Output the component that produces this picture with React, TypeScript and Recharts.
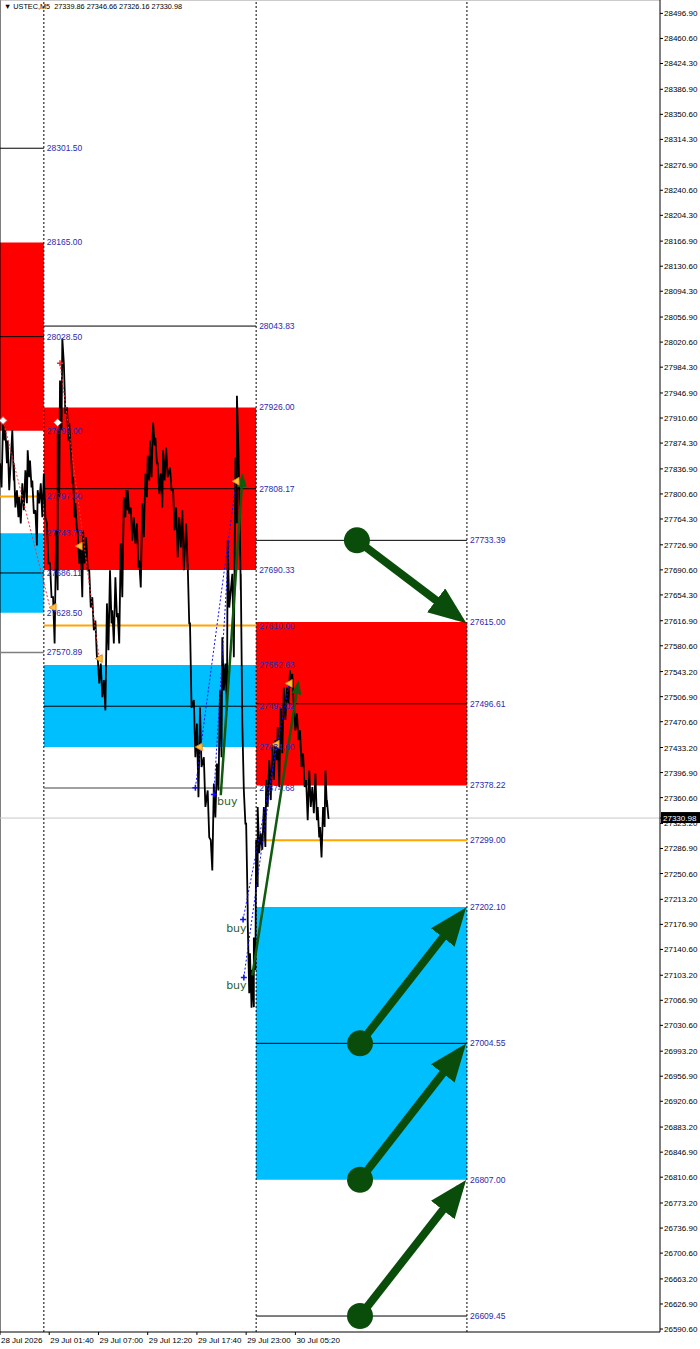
import React from 'react';
import {
  ComposedChart,
  Line,
  Scatter,
  XAxis,
  YAxis,
  ReferenceArea,
  ReferenceLine,
} from 'recharts';

const WIDTH = 700;
const HEIGHT = 1349;
const FONT = '"Liberation Sans", Arial, sans-serif';

const TEXT_BLUE = '#2b2bb0';
const DARK_GREEN = '#0a4d0a';
const ORANGE = '#ffa500';
const ZONE_RED = '#ff0000';
const ZONE_BLUE = '#00bfff';

const symbol = 'USTEC,M5';
const headerQuote = [27339.86, 27346.66, 27326.16, 27330.98];

// x values are M5 bar numbers counted from the left edge of the window
const barDomain: [number, number] = [0, 858];
const priceDomain: [number, number] = [26586.3, 28516.3];

const timeTicks = [0, 64, 128, 192, 256, 320, 384];
const timeLabels = [
  '28 Jul 2026',
  '29 Jul 01:40',
  '29 Jul 07:00',
  '29 Jul 12:20',
  '29 Jul 17:40',
  '29 Jul 23:00',
  '30 Jul 05:20',
];

const priceTicks = [
  28496.9, 28460.6, 28424.3, 28386.9, 28350.6, 28314.3, 28276.9, 28240.6, 28204.3,
  28166.9, 28130.6, 28094.3, 28056.9, 28020.6, 27984.3, 27946.9, 27910.6, 27874.3,
  27836.9, 27800.6, 27764.3, 27726.9, 27690.6, 27654.3, 27616.9, 27580.6, 27543.2,
  27506.9, 27470.6, 27433.2, 27396.9, 27360.6, 27323.2, 27286.9, 27250.6, 27213.2,
  27176.9, 27140.6, 27103.2, 27066.9, 27030.6, 26993.2, 26956.9, 26920.6, 26883.2,
  26846.9, 26810.6, 26773.2, 26736.9, 26700.6, 26663.2, 26626.9, 26590.6,
];

const sessionBreaks = [57, 333, 607];

// [bar, high, low]
const priceSwings: [number, number, number][] = [
  [0, 27845, 27810], [4, 27907, 27878], [7, 27893, 27845], [10, 27878, 27806],
  [16, 27893, 27820], [18, 27845, 27781], [22, 27806, 27767], [25, 27796, 27758],
  [29, 27816, 27777], [33, 27835, 27787], [36, 27864, 27825], [39, 27849, 27810],
  [42, 27820, 27772], [46, 27777, 27726], [49, 27806, 27787], [53, 27816, 27767],
  [57, 27830, 27767], [61, 27758, 27700], [65, 27700, 27651], [69, 27651, 27584],
  [73, 27748, 27661], [75, 27893, 27796], [78, 27965, 27893], [81, 28026, 27990],
  [83, 27990, 27917], [87, 27926, 27878], [90, 27903, 27864], [92, 27868, 27816],
  [95, 27825, 27767], [98, 27787, 27748], [101, 27748, 27700], [105, 27723, 27651],
  [108, 27748, 27700], [112, 27738, 27690], [116, 27690, 27636], [120, 27651, 27603],
  [124, 27617, 27564], [127, 27564, 27526], [131, 27555, 27506], [135, 27531, 27487],
  [139, 27642, 27574], [143, 27690, 27613], [146, 27632, 27584], [150, 27680, 27622],
  [153, 27628, 27584], [157, 27729, 27651], [161, 27796, 27767], [164, 27806, 27777],
  [166, 27806, 27772], [170, 27781, 27733], [174, 27767, 27729], [178, 27758, 27694],
  [181, 27704, 27665], [185, 27787, 27738], [189, 27830, 27796], [192, 27856, 27820],
  [195, 27878, 27825], [199, 27904, 27871], [202, 27882, 27845], [205, 27845, 27801],
  [209, 27830, 27781], [212, 27864, 27820], [216, 27868, 27825], [221, 27839, 27806],
  [225, 27806, 27748], [229, 27781, 27709], [233, 27767, 27723], [237, 27777, 27690],
  [242, 27758, 27694], [244, 27700, 27613], [247, 27613, 27491], [252, 27502, 27419],
  [256, 27468, 27361], [260, 27491, 27405], [265, 27419, 27347], [270, 27371, 27303],
  [274, 27299, 27255], [278, 27381, 27332], [282, 27410, 27371], [286, 27516, 27419],
  [289, 27593, 27516], [293, 27555, 27487], [296, 27733, 27636], [302, 27685, 27564],
  [306, 27853, 27758], [308, 27943, 27864], [311, 27806, 27661], [313, 27685, 27468],
  [317, 27371, 27323], [320, 27323, 27202], [322, 27183, 27077], [325, 27135, 27056],
  [328, 27111, 27057], [330, 27158, 27111], [333, 27299, 27231], [335, 27347, 27280],
  [339, 27309, 27285], [343, 27347, 27289], [346, 27386, 27347], [350, 27415, 27357],
  [354, 27434, 27386], [358, 27444, 27415], [361, 27463, 27376], [365, 27491, 27425],
  [369, 27520, 27473], [373, 27520, 27497], [377, 27545, 27520], [380, 27540, 27491],
  [382, 27497, 27458], [386, 27483, 27444], [390, 27458, 27405], [394, 27425, 27376],
  [398, 27386, 27328], [402, 27400, 27347], [406, 27376, 27338], [410, 27396, 27328],
  [413, 27347, 27303], [416, 27318, 27274], [420, 27347, 27318], [423, 27400, 27347],
  [425, 27357, 27331],
];
const lastClose = 27330.98;

const supplyZones = [
  { from: 0, to: 57, low: 27892.0, high: 28165.0 },
  { from: 57, to: 333, low: 27690.33, high: 27926.0 },
  { from: 333, to: 607, low: 27378.22, high: 27615.0 },
];
const demandZones = [
  { from: 0, to: 57, low: 27628.5, high: 27743.73 },
  { from: 57, to: 333, low: 27434.0, high: 27552.63 },
  { from: 333, to: 607, low: 26807.0, high: 27202.1 },
];

const blackLevels = [
  { price: 28301.5, from: 0, to: 57 },
  { price: 28028.5, from: 0, to: 57 },
  { price: 27686.11, from: 0, to: 57 },
  { price: 28043.83, from: 57, to: 333 },
  { price: 27808.17, from: 57, to: 333 },
  { price: 27493.02, from: 57, to: 333 },
  { price: 27733.39, from: 333, to: 607 },
  { price: 27496.61, from: 333, to: 607 },
  { price: 27004.55, from: 333, to: 607 },
  { price: 26609.45, from: 333, to: 607 },
];
const orangeLevels = [
  { price: 27797.0, from: 0, to: 57 },
  { price: 27610.0, from: 57, to: 333 },
  { price: 27299.0, from: 333, to: 607 },
];
const grayLevels = [
  { price: 27570.89, from: 0, to: 57 },
  { price: 27374.68, from: 57, to: 333 },
];

const targetArrows = [
  { fromBar: 464, fromPrice: 27733.39, toBar: 596, toPrice: 27622 },
  { fromBar: 468, fromPrice: 27004.55, toBar: 598, toPrice: 27190 },
  { fromBar: 468, fromPrice: 26807.0, toBar: 598, toPrice: 26993 },
  { fromBar: 468, fromPrice: 26609.45, toBar: 598, toPrice: 26795 },
];
const buyTrades = [
  { fromBar: 287, fromPrice: 27364, toBar: 315, toPrice: 27822 },
  { fromBar: 328, fromPrice: 27103, toBar: 387, toPrice: 27522 },
];
const redLinks = [
  { fromBar: 4, fromPrice: 27907, toBar: 65, toPrice: 27636 },
  { fromBar: 78, fromPrice: 27990, toBar: 129, toPrice: 27562 },
];
const blueLinks = [
  { fromBar: 254, fromPrice: 27375, toBar: 307, toPrice: 27819 },
  { fromBar: 278, fromPrice: 27365, toBar: 298, toPrice: 27733 },
  { fromBar: 316, fromPrice: 27184, toBar: 376, toPrice: 27526 },
  { fromBar: 317, fromPrice: 27100, toBar: 359, toPrice: 27438 },
];
const entryMarks = [
  { t: 254, p: 27375 },
  { t: 278, p: 27365 },
  { t: 316, p: 27184 },
  { t: 317, p: 27100 },
];
const exitMarks = [
  { t: 103, p: 27725 },
  { t: 69, p: 27636 },
  { t: 129, p: 27562 },
  { t: 259, p: 27434 },
  { t: 307, p: 27819 },
  { t: 376, p: 27526 },
  { t: 359, p: 27438 },
];
const openMarks = [
  { t: 4, p: 27907 },
  { t: 75, p: 27904 },
];
const stopMarks = [{ t: 78, p: 27990 }];
const buyLabels = [
  { t: 282, p: 27355 },
  { t: 294, p: 27171 },
  { t: 294, p: 27089 },
];

const priceSeries = [
  ...priceSwings.flatMap(([t, hi, lo]) => [
    { t, p: hi },
    { t: t + 2, p: lo },
  ]),
  { t: 426, p: lastClose },
];

// the current price tag goes last so it is painted over the tick it hides
const axisTicks = [...priceTicks, lastClose];

const seg = (a: { fromBar: number; fromPrice: number; toBar: number; toPrice: number }) => [
  { t: a.fromBar, p: a.fromPrice },
  { t: a.toBar, p: a.toPrice },
];

const levelLabel = (price: number) => ({
  value: price.toFixed(2),
  position: 'right' as const,
  offset: 3,
  fill: TEXT_BLUE,
  fontSize: 8.5,
  fontFamily: FONT,
});

const TimeTick = (props: any) => {
  const { x, y, payload } = props;
  const i = timeTicks.indexOf(payload.value);
  return (
    <text x={x + 1} y={y + 8} fontSize={8} fontFamily={FONT} fill="#000">
      {timeLabels[i]}
    </text>
  );
};

const PriceTick = (props: any) => {
  const { x, y, payload } = props;
  if (payload.value === lastClose) {
    return (
      <g>
        <rect x={x - 3} y={y - 6} width={39} height={11} fill="#000" />
        <text x={x - 1} y={y + 3} fontSize={8} fontFamily={FONT} fill="#fff">
          {lastClose.toFixed(2)}
        </text>
      </g>
    );
  }
  return (
    <text x={x} y={y + 3} fontSize={8} fontFamily={FONT} fill="#000">
      {payload.value.toFixed(2)}
    </text>
  );
};

const StartCircle = (props: any) =>
  props.index === 0 ? (
    <circle key={`c-${props.index}`} cx={props.cx} cy={props.cy} r={13} fill={DARK_GREEN} />
  ) : (
    <g key={`c-${props.index}`} />
  );

const CrossMark = (props: any) => (
  <path
    d={`M${props.cx - 3},${props.cy} h6 M${props.cx},${props.cy - 3} v6`}
    stroke="#1010ff"
    strokeWidth={1.5}
    fill="none"
  />
);

const StopMark = (props: any) => (
  <path
    d={`M${props.cx - 3},${props.cy} h6 M${props.cx},${props.cy - 3} v6`}
    stroke="#ff2020"
    strokeWidth={1.5}
    fill="none"
  />
);

const ExitMark = (props: any) => (
  <polygon
    points={`${props.cx - 4},${props.cy} ${props.cx + 3},${props.cy - 4} ${props.cx + 3},${props.cy + 4}`}
    fill="#ffc040"
    stroke="#e08000"
    strokeWidth={0.8}
  />
);

const OpenMark = (props: any) => (
  <polygon
    points={`${props.cx},${props.cy - 4} ${props.cx + 4},${props.cy} ${props.cx},${props.cy + 4} ${props.cx - 4},${props.cy}`}
    fill="#fff"
    stroke="#ff3030"
    strokeWidth={1}
  />
);

const BuyText = (props: any) => (
  <text x={props.cx} y={props.cy + 4} fontSize={11} fontFamily='"DejaVu Sans", sans-serif' fill="#2e602e">
    buy
  </text>
);

export default function App() {
  return (
    <div style={{ position: 'absolute', left: 0, top: 0, width: WIDTH, height: HEIGHT, background: '#fff' }}>
      <svg width={0} height={0} style={{ position: 'absolute' }}>
        <defs>
          <marker
            id="bigHead"
            viewBox="0 0 38 30"
            markerWidth={38}
            markerHeight={30}
            refX={28}
            refY={15}
            orient="auto"
            markerUnits="userSpaceOnUse"
          >
            <path d="M0,0 L38,15 L0,30 z" fill={DARK_GREEN} />
          </marker>
          <marker
            id="smallHead"
            viewBox="0 0 14 10"
            markerWidth={14}
            markerHeight={10}
            refX={8}
            refY={5}
            orient="auto"
            markerUnits="userSpaceOnUse"
          >
            <path d="M0,0 L14,5 L0,10 z" fill="#0f5a0f" />
          </marker>
        </defs>
      </svg>
      <ComposedChart width={WIDTH} height={HEIGHT} margin={{ top: 0, right: 0, bottom: 0, left: 0 }}>
        <XAxis
          type="number"
          dataKey="t"
          domain={barDomain}
          ticks={timeTicks}
          interval={0}
          height={17}
          tickSize={3}
          tickMargin={0}
          stroke="#000"
          tick={TimeTick}
        />
        <YAxis
          type="number"
          orientation="right"
          domain={priceDomain}
          ticks={axisTicks}
          interval={0}
          width={40}
          tickSize={3}
          tickMargin={1}
          stroke="#000"
          tick={PriceTick}
        />

        {supplyZones.map((z, i) => (
          <ReferenceArea
            key={`s${i}`}
            x1={z.from}
            x2={z.to}
            y1={z.low}
            y2={z.high}
            fill={ZONE_RED}
            fillOpacity={1}
            stroke="none"
          />
        ))}
        {demandZones.map((z, i) => (
          <ReferenceArea
            key={`d${i}`}
            x1={z.from}
            x2={z.to}
            y1={z.low}
            y2={z.high}
            fill={ZONE_BLUE}
            fillOpacity={1}
            stroke="none"
          />
        ))}

        <ReferenceLine x={0} stroke="#000" />
        <ReferenceLine y={priceDomain[1]} stroke="#999" />
        <ReferenceLine y={lastClose} stroke="#c8c8c8" />
        {sessionBreaks.map((b) => (
          <ReferenceLine key={`b${b}`} x={b} stroke="#000" strokeDasharray="2 2" />
        ))}

        {[...supplyZones, ...demandZones].flatMap((z, i) => [
          <ReferenceLine
            key={`zl${i}`}
            segment={[{ x: z.from, y: z.low }, { x: z.to, y: z.low }]}
            stroke="none"
            label={levelLabel(z.low)}
          />,
          <ReferenceLine
            key={`zh${i}`}
            segment={[{ x: z.from, y: z.high }, { x: z.to, y: z.high }]}
            stroke="none"
            label={levelLabel(z.high)}
          />,
        ])}
        {blackLevels.map((l, i) => (
          <ReferenceLine
            key={`k${i}`}
            segment={[{ x: l.from, y: l.price }, { x: l.to, y: l.price }]}
            stroke="#000"
            label={levelLabel(l.price)}
          />
        ))}
        {orangeLevels.map((l, i) => (
          <ReferenceLine
            key={`o${i}`}
            segment={[{ x: l.from, y: l.price }, { x: l.to, y: l.price }]}
            stroke={ORANGE}
            strokeWidth={2}
            label={levelLabel(l.price)}
          />
        ))}
        {grayLevels.map((l, i) => (
          <ReferenceLine
            key={`g${i}`}
            segment={[{ x: l.from, y: l.price }, { x: l.to, y: l.price }]}
            stroke="#808080"
            strokeWidth={1.5}
            label={levelLabel(l.price)}
          />
        ))}

        <Line
          data={priceSeries}
          dataKey="p"
          type="linear"
          stroke="#000"
          strokeWidth={1.8}
          dot={false}
          activeDot={false}
          isAnimationActive={false}
        />

        {redLinks.map((a, i) => (
          <Line
            key={`rl${i}`}
            data={seg(a)}
            dataKey="p"
            stroke="#ff3030"
            strokeDasharray="2 2"
            strokeWidth={1}
            dot={false}
            activeDot={false}
            isAnimationActive={false}
          />
        ))}
        {blueLinks.map((a, i) => (
          <Line
            key={`bl${i}`}
            data={seg(a)}
            dataKey="p"
            stroke="#1010ff"
            strokeDasharray="2 2"
            strokeWidth={1}
            dot={false}
            activeDot={false}
            isAnimationActive={false}
          />
        ))}
        {buyTrades.map((a, i) => (
          <Line
            key={`bt${i}`}
            data={seg(a)}
            dataKey="p"
            stroke="#0f5a0f"
            strokeWidth={2.5}
            dot={false}
            activeDot={false}
            markerEnd="url(#smallHead)"
            isAnimationActive={false}
          />
        ))}

        <Scatter data={entryMarks} dataKey="p" shape={CrossMark} activeShape={CrossMark} isAnimationActive={false} />
        <Scatter data={stopMarks} dataKey="p" shape={StopMark} activeShape={StopMark} isAnimationActive={false} />
        <Scatter data={exitMarks} dataKey="p" shape={ExitMark} activeShape={ExitMark} isAnimationActive={false} />
        <Scatter data={openMarks} dataKey="p" shape={OpenMark} activeShape={OpenMark} isAnimationActive={false} />
        <Scatter data={buyLabels} dataKey="p" shape={BuyText} activeShape={BuyText} isAnimationActive={false} />

        {targetArrows.map((a, i) => (
          <Line
            key={`ta${i}`}
            data={seg(a)}
            dataKey="p"
            stroke={DARK_GREEN}
            strokeWidth={8}
            dot={StartCircle}
            activeDot={false}
            markerEnd="url(#bigHead)"
            isAnimationActive={false}
          />
        ))}
      </ComposedChart>
      <div
        style={{
          position: 'absolute',
          left: 4,
          top: 2,
          fontSize: 7.3,
          fontFamily: FONT,
          color: '#000',
          whiteSpace: 'pre',
        }}
      >
        {`\u25BC ${symbol}  ${headerQuote.map((v) => v.toFixed(2)).join(' ')}`}
      </div>
    </div>
  );
}
